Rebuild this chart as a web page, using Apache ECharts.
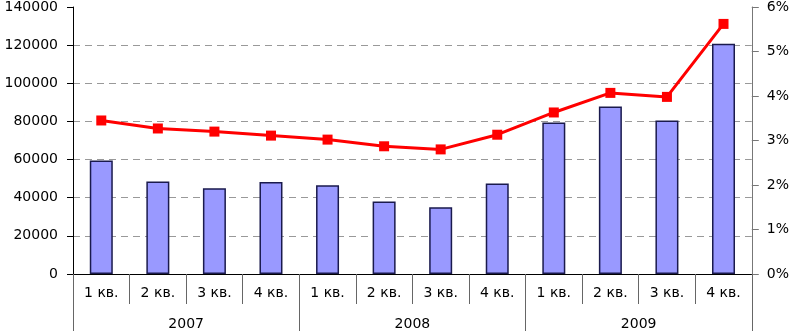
<!DOCTYPE html>
<html>
<head>
<meta charset="utf-8">
<script src="https://cdn.jsdelivr.net/npm/echarts@6/dist/echarts.min.js"></script>
<style>
  html, body { margin: 0; padding: 0; background: #fff; }
  #chart { width: 792px; height: 331px; }
</style>
</head>
<body>
<div id="chart"></div>
<script>
// quarters and years for the two-level axis
var quarters = ['1 кв.', '2 кв.', '3 кв.', '4 кв.', '1 кв.', '2 кв.', '3 кв.', '4 кв.', '1 кв.', '2 кв.', '3 кв.', '4 кв.'];
var years = ['2007', '2008', '2009'];
// bars (left axis)
var barValues = [59500, 48500, 45000, 48200, 46500, 38000, 35000, 47500, 79500, 87800, 80500, 120700];
// line, percent (right axis)
var lineValues = [3.45, 3.27, 3.20, 3.11, 3.02, 2.87, 2.80, 3.13, 3.63, 4.07, 3.98, 5.62];

var font = 'DejaVu Sans';
var chart = echarts.init(document.getElementById('chart'));

// last split line (top) is not drawn in the reference
var gridColors = ['#999', '#999', '#999', '#999', '#999', '#999', '#999', 'rgba(0,0,0,0)'];

var option = {
  animation: false,
  grid: { left: 73, right: 40, top: 6, bottom: 57, containLabel: false },
  xAxis: [{
    type: 'category',
    data: quarters,
    position: 'bottom',
    axisLine: { lineStyle: { color: '#000', width: 1 } },
    axisTick: { show: true, interval: 0, length: 30, lineStyle: { color: '#666' } },
    axisLabel: { interval: 0, margin: 12, color: '#000', fontFamily: font, fontSize: 14 }
  }, {
    type: 'category',
    data: years,
    position: 'bottom',
    axisLine: { show: false },
    axisTick: { show: true, interval: 0, length: 57, lineStyle: { color: '#666' } },
    axisLabel: { interval: 0, margin: 43, color: '#000', fontFamily: font, fontSize: 14 }
  }],
  yAxis: [{
    type: 'value',
    min: 0,
    max: 140000,
    interval: 20000,
    axisLine: { show: true, lineStyle: { color: '#000' } },
    axisTick: { show: true, length: 6, lineStyle: { color: '#000' } },
    axisLabel: {
      margin: 15, color: '#000', fontFamily: font, fontSize: 14,
      formatter: function(v) { return String(v); }
    },
    splitLine: { show: true, lineStyle: { color: gridColors, type: [7, 5], width: 1 } }
  }, {
    type: 'value',
    min: 0,
    max: 6,
    interval: 1,
    position: 'right',
    axisLine: { show: true, lineStyle: { color: '#777' } },
    axisTick: { show: true, length: 7, lineStyle: { color: '#777' } },
    axisLabel: {
      margin: 15, color: '#000', fontFamily: font, fontSize: 14,
      formatter: function(v) { return v + '%'; }
    },
    splitLine: { show: false }
  }],
  series: [{
    name: 'bars',
    type: 'bar',
    xAxisIndex: 0,
    yAxisIndex: 0,
    barWidth: 23,
    itemStyle: { color: '#9999ff', borderColor: '#1a1a4d', borderWidth: 1.5 },
    data: barValues
  }, {
    name: 'line',
    type: 'line',
    xAxisIndex: 0,
    yAxisIndex: 1,
    symbol: 'rect',
    symbolSize: 10,
    lineStyle: { color: '#ff0000', width: 3 },
    itemStyle: { color: '#ff0000' },
    z: 5,
    data: lineValues
  }]
};

chart.setOption(option);
</script>
</body>
</html>
